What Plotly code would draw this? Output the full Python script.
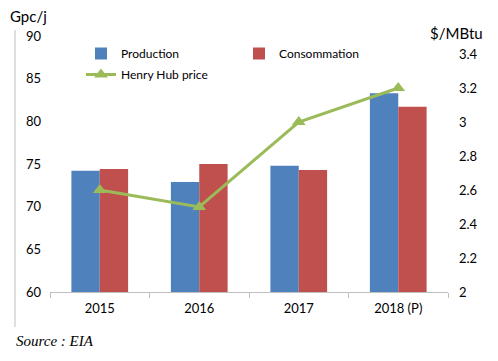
import plotly.graph_objects as go

years = ["2015", "2016", "2017", "2018 (P)"]
production = [74.2, 72.9, 74.8, 83.3]
consommation = [74.4, 75.0, 74.3, 81.7]
henry_hub = [2.6, 2.5, 3.0, 3.2]

left_ticks = [60, 65, 70, 75, 80, 85, 90]
right_ticks = [2, 2.2, 2.4, 2.6, 2.8, 3, 3.2, 3.4]
right_labels = ["2", "2.2", "2.4", "2.6", "2.8", "3", "3.2", "3.4"]

# page has 8px body margin; figure sized to fit the 498x361 window
OFF = 8
W, H = 498 - OFF, 361 - OFF
PL, PR, PT, PB = 50, 448, 36, 292  # plot area in page pixels
L, R, T, B = PL - OFF, W - (PR - OFF), PT - OFF, H - (PB - OFF)
pw, ph = W - L - R, H - T - B

def px_x(x):
    return (x - OFF - L) / pw

def px_y(y):
    return (H - B - (y - OFF)) / ph

font = "Lato, Calibri, sans-serif"

fig = go.Figure()
fig.add_trace(go.Bar(x=years, y=production, name="Production", legendgroup="a",
                     marker=dict(color="#4F81BD", line=dict(width=0)), legend="legend"))
fig.add_trace(go.Bar(x=years, y=consommation, name="Consommation",
                     marker=dict(color="#C0504D", line=dict(width=0)), legend="legend2"))
fig.add_trace(go.Scatter(x=years, y=henry_hub, name="Henry Hub price", yaxis="y2",
                         mode="lines+markers", legendgroup="b",
                         line=dict(color="#9BBB59", width=3),
                         marker=dict(symbol="triangle-up", size=12, color="#9BBB59"),
                         legend="legend"))

fig.update_layout(
    width=W, height=H,
    margin=dict(l=L, r=R, t=T, b=B),
    paper_bgcolor="white", plot_bgcolor="white",
    font=dict(family=font, size=12, color="#000000"),
    barmode="group", bargap=0.43, bargroupgap=0,
    xaxis=dict(type="category", showline=True, linecolor="#BFBFBF", linewidth=1,
               ticks="outside", tickson="boundaries", ticklen=5, tickcolor="#BFBFBF",
               showgrid=False, tickfont=dict(size=13), ticklabelstandoff=4),
    yaxis=dict(range=[60, 90], tickvals=left_ticks, showgrid=False, zeroline=False,
               showline=False, ticks="", ticklabelstandoff=8, tickfont=dict(size=13)),
    yaxis2=dict(range=[2, 3.506], overlaying="y", side="right", tickvals=right_ticks,
                ticktext=right_labels, showgrid=False, zeroline=False, showline=False,
                ticks="", ticklabelstandoff=10, tickfont=dict(size=13)),
    legend=dict(x=px_x(81), y=px_y(39), xanchor="left", yanchor="top",
                orientation="v", itemwidth=30, tracegroupgap=2,
                font=dict(size=12), bgcolor="rgba(0,0,0,0)"),
    legend2=dict(x=px_x(239), y=px_y(39), xanchor="left", yanchor="top",
                 orientation="v", itemwidth=30,
                 font=dict(size=12), bgcolor="rgba(0,0,0,0)"),
    showlegend=True,
)

fig.add_shape(type="line", xref="paper", yref="paper",
              x0=px_x(15), x1=px_x(15), y0=px_y(30), y1=px_y(327),
              line=dict(color="#BFBFBF", width=1))

fig.add_annotation(text="Gpc/j", xref="paper", yref="paper", x=px_x(8), y=px_y(16),
                   xanchor="left", yanchor="middle", showarrow=False,
                   font=dict(size=15, family=font))
fig.add_annotation(text="$/MBtu", xref="paper", yref="paper", x=px_x(428), y=px_y(33),
                   xanchor="left", yanchor="middle", showarrow=False,
                   font=dict(size=15, family=font))
fig.add_annotation(text="<i>Source : EIA</i>", xref="paper", yref="paper",
                   x=px_x(14), y=px_y(341), xanchor="left", yanchor="middle",
                   showarrow=False,
                   font=dict(size=15, family="Liberation Serif, Times New Roman, serif"))

fig.write_html("out.html")
